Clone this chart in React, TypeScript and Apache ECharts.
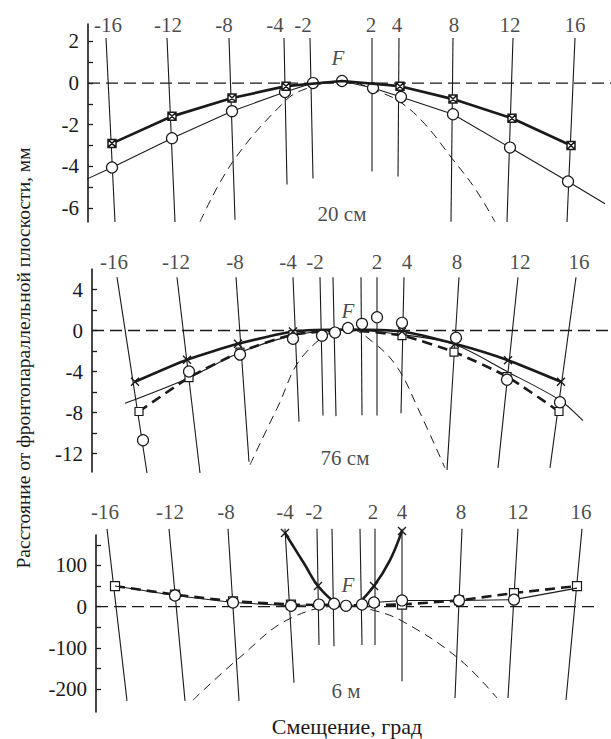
import React, { useEffect, useRef } from "react";
import * as echarts from "echarts";

const FONT = '"Liberation Serif", "Times New Roman", Times, serif';
const INK = "#1a1a1a";

// ---------------- Panel 1 : 20 см (lateral position, mm) ----------------
const p1Labels = ["-16", "-12", "-8", "-4", "-2", "2", "4", "8", "12", "16"];
const p1TopX = [-236, -175, -113, -58, -32, 30, 57, 111, 171, 233];
const p1BotX = [-227, -167, -107, -55, -29, 30, 56, 109, 165, 225];
const p1BotY = [-6.68, -6.68, -6.57, -4.88, -4.59, -4.25, -4.49, -6.67, -6.68, -6.68];
const p1TopY = 2.17;
const p1BoxX = [-230, -170, -110, -56, 0, 58, 111, 170, 229];
const p1BoxY = [-2.9, -1.6, -0.72, -0.15, 0.1, -0.15, -0.77, -1.69, -3.0];
const p1BoxMark = [1, 1, 1, 1, 0, 1, 1, 1, 1];
const p1CircX = [-259, -230, -170, -110, -57, -29, 0, 31, 59, 111, 168, 226, 263];
const p1CircY = [-4.7, -4.06, -2.65, -1.35, -0.43, 0.0, 0.1, -0.24, -0.67, -1.5, -3.1, -4.73, -5.8];
const p1CircMark = [0, 1, 1, 1, 1, 1, 1, 1, 1, 1, 1, 1, 0];
const p1ParX = [-142, -109, -57, -37, 0, 40, 60, 83, 110, 133, 153];
const p1ParY = [-6.67, -3.77, -0.87, -0.29, 0.1, -0.48, -0.97, -1.98, -3.62, -5.07, -6.67];

// ---------------- Panel 2 : 76 см ----------------
const p2Labels = ["-16", "-12", "-8", "-4", "-2", "", "", "2", "4", "8", "12", "16"];
const p2TopX = [-231, -171, -112, -55, -28, -15, 13, 29, 56, 111, 170, 228];
const p2BotX = [-201, -148, -99, -49, -25, -12, 14, 29, 53, 99, 150, 202];
const p2BotY = [-13.9, -13.9, -12.8, -8.9, -8.3, -8.35, -8.26, -8.3, -8.06, -13.6, -13.4, -13.4];
const p2TopY = 5.2;
const p2CrossX = [-213, -161, -110, -55, 0, 54, 107, 160, 213];
const p2CrossY = [-5.0, -2.85, -1.3, -0.1, 0.1, -0.1, -1.3, -2.9, -5.0];
const p2CrossMark = [1, 1, 1, 1, 0, 1, 1, 1, 1];
const p2SqX = [-209, -159, -108, -55, 0, 54, 106, 159, 211];
const p2SqY = [-7.9, -4.6, -2.1, -0.4, 0.0, -0.5, -2.1, -4.5, -7.9];
const p2SqMark = [1, 1, 1, 1, 0, 1, 1, 1, 1];
const p2CircX = [-205, -159, -108, -55, -26, -13, 0, 14, 29, 54, 108, 159, 212];
const p2CircY = [-10.7, -4.0, -2.35, -0.8, -0.5, -0.2, 0.25, 0.65, 1.3, 0.75, -0.7, -4.8, -7.0];
const p2FitX = [-223, -161, -108, -55, 0, 54, 105, 159, 212, 235];
const p2FitY = [-7.1, -4.7, -2.15, -0.5, 0.07, -0.4, -1.3, -4.0, -6.8, -8.8];
const p2ParX = [-98, -71, -43, 0, 27, 50, 70, 97];
const p2ParY = [-13.1, -7.6, -2.25, 0.15, -1.3, -3.7, -7.6, -13.4];

// ---------------- Panel 3 : 6 м ----------------
const p3Labels = ["-16", "-12", "-8", "-4", "-2", "", "", "2", "4", "8", "12", "16"];
const p3TopX = [-239, -177, -118, -61, -29, -14, 14, 29, 56, 116, 172, 236];
const p3BotX = [-219, -161, -107, -52, -27, -12, 16, 29, 56, 109, 162, 220];
const p3BotY = [-229, -229, -229, -185, -93, -96, -93, -93, -181, -222, -222, -227];
const p3TopY = 189;
const p3SqX = [-231, -171, -113, -55, 0, 56, 113, 168, 231];
const p3SqY = [50, 29, 13, 5, 3, 5, 15, 33, 50];
const p3SqMark = [1, 1, 1, 1, 0, 1, 1, 1, 1];
const p3CircX = [-231, -171, -113, -55, -27, -12, 0, 16, 28, 56, 113, 168, 231];
const p3CircY = [50, 27, 10, 2, 5, 7, 2, 5, 10, 15, 15, 17, 45];
const p3CircMark = [0, 1, 1, 1, 1, 1, 1, 1, 1, 1, 1, 1, 0];
const p3CrossLX = [-61, -41, -28, -11];
const p3CrossLY = [179, 101, 50, 9];
const p3CrossLMark = [1, 0, 1, 0];
const p3CrossRX = [11, 28, 44, 56];
const p3CrossRY = [4, 50, 113, 184];
const p3CrossRMark = [0, 1, 0, 1];
const p3ParX = [-153, -106, -56, 0, 26, 56, 112, 151];
const p3ParY = [-227, -123, -29, 2, -8, -35, -125, -222];

// ---------------- layout (pixels) ----------------
const grids = [
  { left: 88, top: 24, width: 523, height: 198 },
  { left: 92, top: 269, width: 519, height: 203 },
  { left: 96, top: 535, width: 515, height: 177 },
];
const xRanges = [[-254, 269], [-256, 263], [-250, 265]];
const yRanges = [[-6.68, 2.84], [-13.8, 6.0], [-256, 174]];
const yTicks = [
  [-6, -5, -4, -3, -2, -1, 0, 1, 2],
  [-12, -10, -8, -6, -4, -2, 0, 2, 4],
  [-200, -150, -100, -50, 0, 50, 100, 150],
];
const yTickLabels = [
  [-6, -4, -2, 0, 2],
  [-12, -8, -4, 0, 4],
  [-200, -100, 0, 100],
];
const zeroEnds = [269, 263, 252];
const labelDist = [1.5, 4.5, 5.5];
const labelDx = [
  [2, 1, -5, -9, -7, -1, -2, 1, -3, 0],
  [-3, -1, -1, -5, -5, 0, 0, 0, 3, -2, 2, 3],
  [-2, 1, -2, 0, -3, 0, 0, -2, 0, -1, 0, -1],
];
const fPos = [[-4, 1.2], [0, 1.9], [2, 53]];
const captions = ["20 см", "76 см", "6 м"];
const capPos = [[0, -6.28], [-3, -12.4], [0, -205]];

const SYM_BOXX = "path://M0,0H10V10H0ZM0,0L10,10M10,0L0,10";
const SYM_X = "path://M0,0L10,10M10,0L0,10";

function pts(xs: number[], ys: number[], marks?: number[]) {
  return xs.map((x, i) =>
    marks && !marks[i] ? { value: [x, ys[i]], symbol: "none" } : [x, ys[i]]
  );
}

function line(gi: number, data: any[], o: any) {
  return {
    type: "line",
    xAxisIndex: gi,
    yAxisIndex: gi,
    data,
    clip: false,
    silent: true,
    smooth: o.smooth || false,
    symbol: o.symbol || "none",
    symbolSize: o.symbolSize || 8,
    z: o.z || 3,
    lineStyle: {
      color: INK,
      width: o.width == null ? 1 : o.width,
      type: o.dash || "solid",
      opacity: o.noLine ? 0 : 1,
    },
    itemStyle: { color: "#fff", borderColor: INK, borderWidth: o.bw || 1.2 },
  };
}

function panelSeries(
  gi: number,
  labels: string[],
  topX: number[],
  botX: number[],
  botY: number[],
  topY: number
) {
  const s: any[] = [];
  s.push(
    line(gi, [[xRanges[gi][0], 0], [zeroEnds[gi], 0]], {
      width: 1.3,
      dash: [12, 6],
      z: 2,
    })
  );
  topX.forEach((x, i) => {
    s.push(line(gi, [[x, topY], [botX[i], botY[i]]], { width: 1.1, z: 2 }));
  });
  s.push({
    type: "scatter",
    xAxisIndex: gi,
    yAxisIndex: gi,
    clip: false,
    silent: true,
    symbol: "circle",
    symbolSize: 1,
    itemStyle: { color: "rgba(0,0,0,0)" },
    label: {
      show: true,
      position: "top",
      distance: labelDist[gi],
      fontFamily: FONT,
      fontSize: 21,
      color: INK,
    },
    data: topX
      .map((x, i) => ({
        value: [x, topY],
        label: { formatter: labels[i], offset: [labelDx[gi][i], 0] },
      }))
      .filter((d, i) => labels[i] !== ""),
    z: 6,
  });
  s.push({
    type: "scatter",
    xAxisIndex: gi,
    yAxisIndex: gi,
    clip: false,
    silent: true,
    symbol: "circle",
    symbolSize: 1,
    itemStyle: { color: "rgba(0,0,0,0)" },
    label: {
      show: true,
      position: "inside",
      fontFamily: FONT,
      fontSize: 21,
      color: INK,
    },
    data: [
      { value: fPos[gi], label: { formatter: "F", fontStyle: "italic" } },
      { value: capPos[gi], label: { formatter: captions[gi] } },
    ],
    z: 6,
  });
  return s;
}

function buildOption() {
  const series: any[] = [];
  // Panel 1
  series.push(...panelSeries(0, p1Labels, p1TopX, p1BotX, p1BotY, p1TopY));
  series.push(line(0, pts(p1ParX, p1ParY), { width: 1, dash: [9, 6], smooth: 0.4, z: 3 }));
  series.push(
    line(0, pts(p1CircX, p1CircY, p1CircMark), {
      width: 1.1,
      symbol: "circle",
      symbolSize: 11,
      z: 4,
    })
  );
  series.push(
    line(0, pts(p1BoxX, p1BoxY, p1BoxMark), {
      width: 2.7,
      symbol: SYM_BOXX,
      symbolSize: 8,
      bw: 1.5,
      z: 5,
    })
  );
  // Panel 2
  series.push(...panelSeries(1, p2Labels, p2TopX, p2BotX, p2BotY, p2TopY));
  series.push(line(1, pts(p2ParX, p2ParY), { width: 1, dash: [9, 6], smooth: 0.4, z: 3 }));
  series.push(line(1, pts(p2FitX, p2FitY), { width: 1.1, smooth: 0.3, z: 4 }));
  series.push(
    line(1, pts(p2SqX, p2SqY, p2SqMark), {
      width: 2.6,
      dash: [10, 6],
      symbol: "rect",
      symbolSize: 8,
      smooth: 0.2,
      z: 5,
    })
  );
  series.push(
    line(1, pts(p2CrossX, p2CrossY, p2CrossMark), {
      width: 2.6,
      symbol: SYM_X,
      symbolSize: 8,
      bw: 1.4,
      smooth: 0.2,
      z: 5,
    })
  );
  series.push(
    line(1, pts(p2CircX, p2CircY), {
      noLine: true,
      symbol: "circle",
      symbolSize: 11,
      z: 6,
    })
  );
  // Panel 3
  series.push(...panelSeries(2, p3Labels, p3TopX, p3BotX, p3BotY, p3TopY));
  series.push(line(2, pts(p3ParX, p3ParY), { width: 1, dash: [9, 6], smooth: 0.4, z: 3 }));
  series.push(
    line(2, pts(p3SqX, p3SqY, p3SqMark), {
      width: 2.6,
      dash: [10, 6],
      symbol: "rect",
      symbolSize: 9,
      z: 4,
    })
  );
  series.push(
    line(2, pts(p3CircX, p3CircY, p3CircMark), {
      width: 1.1,
      symbol: "circle",
      symbolSize: 11,
      z: 5,
    })
  );
  series.push(
    line(2, pts(p3CrossLX, p3CrossLY, p3CrossLMark), {
      width: 2.6,
      symbol: SYM_X,
      symbolSize: 8,
      bw: 1.4,
      smooth: 0.4,
      z: 5,
    })
  );
  series.push(
    line(2, pts(p3CrossRX, p3CrossRY, p3CrossRMark), {
      width: 2.6,
      symbol: SYM_X,
      symbolSize: 8,
      bw: 1.4,
      smooth: 0.4,
      z: 5,
    })
  );

  return {
    animation: false,
    backgroundColor: "#fff",
    grid: grids.map((g) => ({ ...g, containLabel: false })),
    xAxis: grids.map((g, i) => ({
      type: "value",
      gridIndex: i,
      min: xRanges[i][0],
      max: xRanges[i][1],
      show: false,
    })),
    yAxis: grids.map((g, i) => ({
      type: "value",
      gridIndex: i,
      min: yRanges[i][0],
      max: yRanges[i][1],
      splitLine: { show: false },
      axisLine: { show: true, onZero: false, lineStyle: { color: INK, width: 1.6 } },
      axisTick: {
        show: true,
        inside: true,
        length: 5,
        customValues: yTicks[i],
        lineStyle: { color: INK, width: 1.3 },
      },
      axisLabel: {
        show: true,
        customValues: yTickLabels[i],
        margin: 9,
        fontFamily: FONT,
        fontSize: 21,
        color: INK,
      },
    })),
    graphic: [
      {
        type: "text",
        x: 23,
        y: 358,
        rotation: Math.PI / 2,
        style: {
          text: "Расстояние от фронтопараллельной плоскости, мм",
          font: '19.5px "Liberation Serif", "Times New Roman", serif',
          fill: INK,
          align: "center",
          verticalAlign: "middle",
          textAlign: "center",
          textVerticalAlign: "middle",
        },
      },
      {
        type: "text",
        x: 347,
        y: 726,
        style: {
          text: "Смещение, град",
          font: '22px "Liberation Serif", "Times New Roman", serif',
          fill: INK,
          align: "center",
          verticalAlign: "middle",
          textAlign: "center",
          textVerticalAlign: "middle",
        },
      },
    ],
    series,
  };
}

export default function App() {
  const ref = useRef<HTMLDivElement>(null);
  useEffect(() => {
    if (!ref.current) return;
    const chart = echarts.init(ref.current, undefined, { renderer: "svg" });
    chart.setOption(buildOption() as any);
    return () => chart.dispose();
  }, []);
  return (
    <div
      ref={ref}
      style={{ position: "fixed", left: 0, top: 0, width: 611, height: 739, background: "#fff" }}
    />
  );
}
